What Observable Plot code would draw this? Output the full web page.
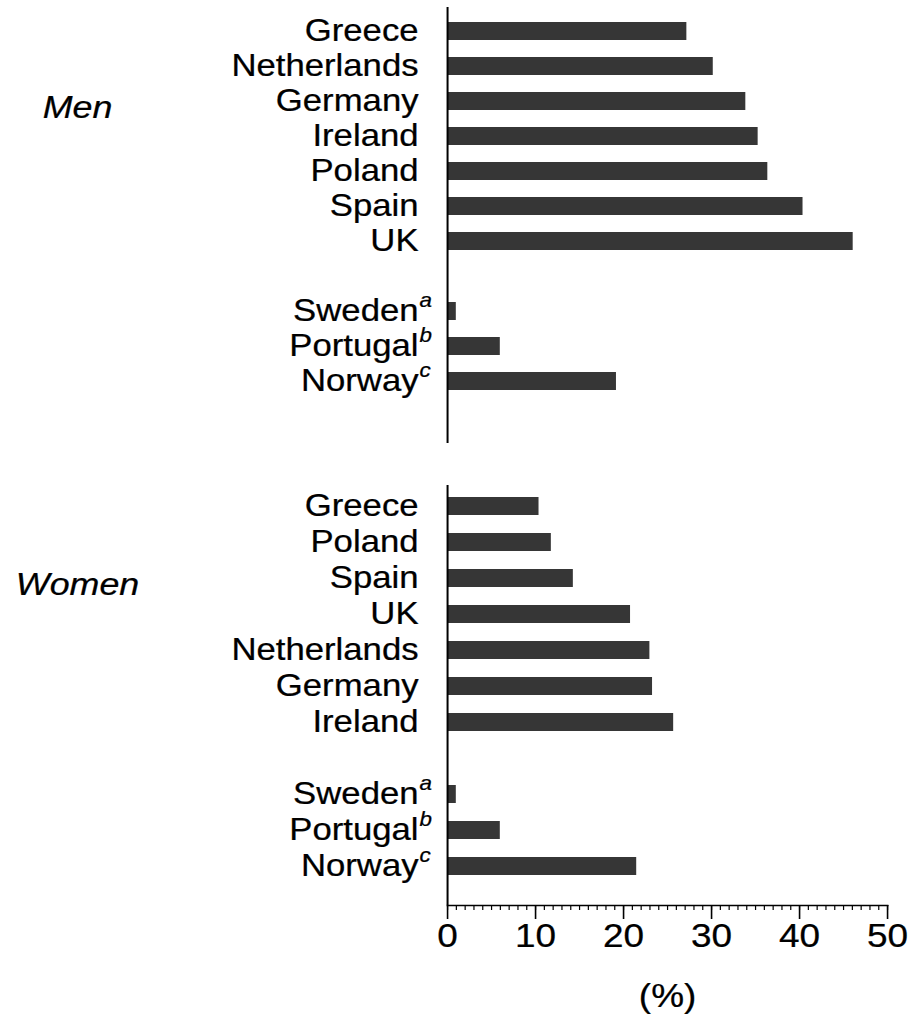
<!DOCTYPE html>
<html>
<head>
<meta charset="utf-8">
<script src="https://cdn.jsdelivr.net/npm/d3@7"></script>
<script src="https://cdn.jsdelivr.net/npm/@observablehq/plot@0.6"></script>
<style>
  html, body { margin: 0; padding: 0; background: #fff; }
  #chart svg { display: block; }
  #chart svg text { stroke: #000; stroke-width: 0.25px; }
</style>
</head>
<body>
<div id="chart"></div>
<script>
// ---- data ----
const menCountries = ["Greece", "Netherlands", "Germany", "Ireland", "Poland", "Spain", "UK"];
const menValues = [27.2, 30.2, 33.9, 35.3, 36.4, 40.4, 46.1];
const menOtherCountries = ["Sweden", "Portugal", "Norway"];
const menOtherValues = [1.0, 6.0, 19.2];

const womenCountries = ["Greece", "Poland", "Spain", "UK", "Netherlands", "Germany", "Ireland"];
const womenValues = [10.4, 11.8, 14.3, 20.8, 23.0, 23.3, 25.7];
const womenOtherCountries = ["Sweden", "Portugal", "Norway"];
const womenOtherValues = [1.0, 6.0, 21.5];

const footnoteMarks = ["a", "b", "c"];
const groupLabels = ["Men", "Women"];
const xTicks = [0, 10, 20, 30, 40, 50];
const xLabel = "(%)";

// ---- layout ----
const S = 1.12;              // horizontal stretch of the figure
const W = 915 / S;
const FONT = "'Liberation Sans', Arial, Helvetica, sans-serif";
const BAR = "#363636";

function rows(names, vals) { return names.map((c, i) => ({country: c, value: vals[i]})); }

function panel(group, mainNames, mainVals, otherNames, otherVals, opts) {
  const data = [...rows(mainNames, mainVals), ...rows(otherNames, otherVals)];
  const domain = [...mainNames, "gap", ...otherNames];
  const sups = otherNames.map((c, i) => ({country: c, sup: footnoteMarks[i]}));
  const marks = [
    Plot.barX(data, {x: "value", y: "country", fill: BAR}),
    Plot.ruleX([0], {stroke: "#000", strokeWidth: 2 / S}),
    Plot.axisY({tickSize: 0, tickPadding: 29 / S, fontSize: 31,
                tickFormat: d => d === "gap" ? "" : d}),
    Plot.text(sups, {y: "country", text: "sup", frameAnchor: "left", textAnchor: "start",
                     dx: -28 / S, dy: -11, fontSize: 20, fontStyle: "italic"}),
    Plot.text([{label: group, row: mainNames[2]}], {y: "row", text: "label", frameAnchor: "left",
                     textAnchor: "middle", dx: -370 / S, dy: 6, fontSize: 32, fontStyle: "italic"})
  ];
  if (opts.xaxis) {
    marks.push(
      Plot.frame({anchor: "bottom", stroke: "#000", strokeWidth: 1.6}),
      Plot.axisX({ticks: d3.range(0, 51, 1), tickSize: 5, strokeWidth: 1.2 / S,
                  tickFormat: () => "", label: null}),
      Plot.axisX({ticks: xTicks, tickSize: 14, tickPadding: 4, strokeWidth: 1.6 / S, fontSize: 33,
                  label: xLabel, labelAnchor: "center", labelArrow: "none", labelOffset: 101})
    );
  }
  const svg = Plot.plot({
    width: W,
    height: opts.height,
    marginLeft: 447 / S,
    marginRight: 28 / S,
    marginTop: opts.marginTop,
    marginBottom: opts.marginBottom,
    style: {fontFamily: FONT, color: "#000", background: "#fff"},
    x: {domain: [0, 50], axis: opts.xaxis ? undefined : null},
    y: {domain, paddingInner: 0.5, paddingOuter: opts.po, align: opts.align},
    marks
  });
  svg.setAttribute("preserveAspectRatio", "none");
  svg.setAttribute("width", 915);
  svg.style.width = "915px";
  svg.style.maxWidth = "none";
  svg.style.height = opts.height + "px";
  return svg;
}

const chart = document.getElementById("chart");
chart.appendChild(panel(groupLabels[0], menCountries, menValues, menOtherCountries, menOtherValues,
  {height: 464, marginTop: 7, marginBottom: 21, po: 0.806, align: 0.224, xaxis: false}));
chart.appendChild(panel(groupLabels[1], womenCountries, womenValues, womenOtherCountries, womenOtherValues,
  {height: 552, marginTop: 21, marginBottom: 111, po: 0.583, align: 0.286, xaxis: true}));
</script>
</body>
</html>
